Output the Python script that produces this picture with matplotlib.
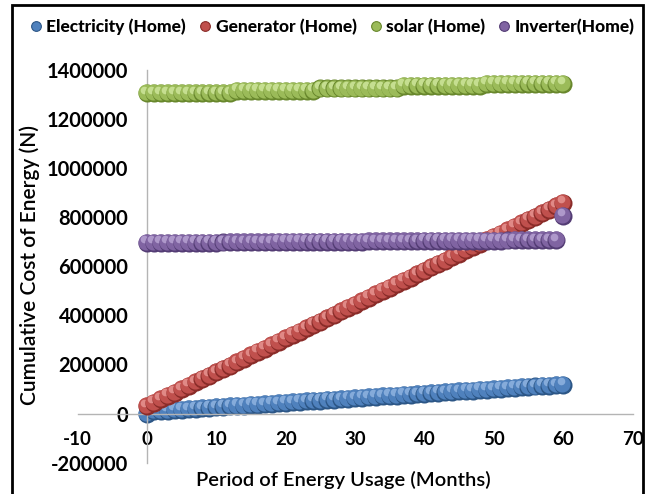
import matplotlib
matplotlib.use("Agg")
import matplotlib.pyplot as plt
from matplotlib.transforms import offset_copy
from matplotlib.lines import Line2D
from matplotlib.patches import Rectangle

# data (months 0..60)
months = list(range(61))

electricity = [0, 8500, 10350, 12200, 14050, 15900, 17750, 19600, 21450, 23300,
               25150, 27000, 28850, 30700, 32550, 34400, 36250, 38100, 39950, 41800,
               43650, 45500, 47350, 49200, 51050, 52900, 54750, 56600, 58450, 60300,
               62150, 64000, 65850, 67700, 69550, 71400, 73250, 75100, 76950, 78800,
               80650, 82500, 84350, 86200, 88050, 89900, 91750, 93600, 95450, 97300,
               99150, 101000, 102850, 104700, 106550, 108400, 110250, 112100, 113950, 115800,
               117650]

generator = [30000, 43800, 57600, 71400, 85200, 99000, 112800, 126600, 140400, 154200,
             168000, 181800, 195600, 209400, 223200, 237000, 250800, 264600, 278400, 292200,
             306000, 319800, 333600, 347400, 361200, 375000, 388800, 402600, 416400, 430200,
             444000, 457800, 471600, 485400, 499200, 513000, 526800, 540600, 554400, 568200,
             582000, 595800, 609600, 623400, 637200, 651000, 664800, 678600, 692400, 706200,
             720000, 733800, 747600, 761400, 775200, 789000, 802800, 816600, 830400, 844200,
             858000]

solar = [1305000, 1305000, 1305000, 1305000, 1305000, 1305000, 1305000, 1305000, 1305000, 1305000,
         1305000, 1305000, 1305000, 1315000, 1315000, 1315000, 1315000, 1315000, 1315000, 1315000,
         1315000, 1315000, 1315000, 1315000, 1315000, 1325000, 1325000, 1325000, 1325000, 1325000,
         1325000, 1325000, 1325000, 1325000, 1325000, 1325000, 1325000, 1335000, 1335000, 1335000,
         1335000, 1335000, 1335000, 1335000, 1335000, 1335000, 1335000, 1335000, 1335000, 1345000,
         1345000, 1345000, 1345000, 1345000, 1345000, 1345000, 1345000, 1345000, 1345000, 1345000,
         1345000]

inverter = [695000, 695200, 695400, 695600, 695800, 696000, 696200, 696400, 696600, 696800,
            697000, 697200, 697400, 697600, 697800, 698000, 698200, 698400, 698600, 698800,
            699000, 699200, 699400, 699600, 699800, 700000, 700200, 700400, 700600, 700800,
            701000, 701200, 701400, 701600, 701800, 702000, 702200, 702400, 702600, 702800,
            703000, 703200, 703400, 703600, 703800, 704000, 704200, 704400, 704600, 704800,
            705000, 705200, 705400, 705600, 705800, 706000, 706200, 706400, 706600, 706800,
            805000]

labels = ["Electricity (Home)", "Generator (Home)", "solar (Home)", "Inverter(Home)"]
series = [electricity, generator, solar, inverter]
# dark edge, base, highlight
colors = [("#2c5686", "#4f81bd", "#8fb3e0"),
          ("#8a2c29", "#c0504d", "#e69491"),
          ("#68872c", "#9bbb59", "#cde59a"),
          ("#533c74", "#8064a2", "#b7a2d2")]

xticks = [-10, 0, 10, 20, 30, 40, 50, 60, 70]
yticks = [-200000, 0, 200000, 400000, 600000, 800000, 1000000, 1200000, 1400000]

fig = plt.figure(figsize=(6.49, 4.94), dpi=100)
ax = fig.add_axes([0.1196, 0.0636, 0.855, 0.7945])

# axes cross at zero, like the excel chart (do this before styling ticks)
for s in ["top", "right"]:
    ax.spines[s].set_visible(False)
ax.spines["left"].set_position(("data", 0))
ax.spines["bottom"].set_position(("data", 0))
for s in ["left", "bottom"]:
    ax.spines[s].set_color("#b4b4b4")
    ax.spines[s].set_linewidth(1.0)
ax.patch.set_visible(False)

mid = offset_copy(ax.transData, fig=fig, x=-0.5, y=0.7, units="points")
hi = offset_copy(ax.transData, fig=fig, x=-1.8, y=2.6, units="points")

for k, (vals, (dark, base, light)) in enumerate(zip(series, colors)):
    z = 2 + k
    for i, (x, y) in enumerate(zip(months, vals)):
        zz = z + i * 0.004
        ax.plot([x], [y], "o", ms=13, color=dark, mew=0, zorder=zz)
        ax.plot([x], [y], "o", ms=11.6, color=base, mew=0, transform=mid, zorder=zz + 0.001)
        ax.plot([x], [y], "o", ms=5.5, color=light, mew=0, alpha=0.85, transform=hi,
                zorder=zz + 0.002)

ax.set_xlim(-10, 70)
ax.set_ylim(-200000, 1400000)
ax.set_xticks(xticks)
ax.set_yticks(yticks)
ax.set_xticklabels([str(t) for t in xticks], fontfamily="Lato", fontweight="bold", fontsize=13.5)
ax.set_yticklabels([str(t) for t in yticks], fontfamily="Lato", fontweight="bold", fontsize=14.5)
ax.tick_params(axis="both", length=0)
ax.tick_params(axis="y", pad=13.5)
ax.tick_params(axis="x", pad=12.5)

fig.text(0.046, 0.4636, "Cumulative Cost of Energy (N)", rotation=90, ha="center", va="center",
         fontfamily="Lato", fontweight="semibold", fontsize=15)
fig.text(0.5285, 0.028, "Period of Energy Usage (Months)", ha="center", va="center",
         fontfamily="Lato", fontweight="semibold", fontsize=14.5)

handles = [Line2D([], [], marker="o", ls="", ms=7, mfc=b, mec=d, mew=0.8) for d, b, l in colors]
fig.legend(handles, labels, loc="center", bbox_to_anchor=(0.51, 0.945), ncol=4, frameon=False,
           prop=dict(family="Lato", weight="black", size=12.5), handletextpad=0.1,
           columnspacing=0.6, handlelength=1.0)

fig.patches.append(Rectangle((0.0185, -0.05), 0.9723, 1.0399, transform=fig.transFigure,
                             fill=False, lw=2, ec="black"))

fig.savefig("out.png", dpi=100)
